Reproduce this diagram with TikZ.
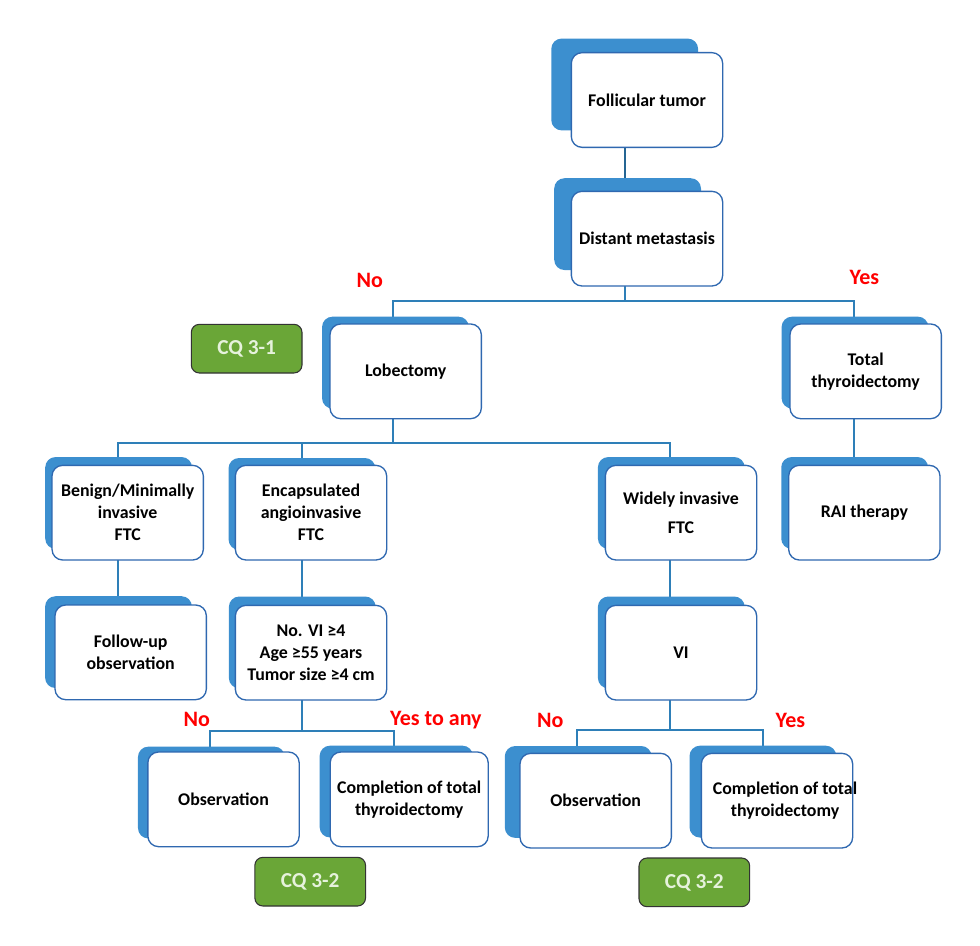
\documentclass[tikz,border=0pt]{standalone}
\usepackage{fontspec}
\setmainfont{Carlito}
\usetikzlibrary{positioning, shadows, backgrounds}
\definecolor{colour_plate}{HTML}{3C8FCF}
\definecolor{colour_edge}{HTML}{2F68B0}
\definecolor{colour_link}{HTML}{2E7FB8}
\definecolor{colour_cq}{HTML}{6AA637}
\definecolor{colour_cqtext}{HTML}{E6F2DC}

\begin{document}
\begin{tikzpicture}[
    x=0.75pt, y=-0.75pt,
    font=\bfseries\fontsize{13.4}{16.5}\selectfont,
    box/.style={rectangle, draw=colour_edge, line width=1pt, fill=white, rounded corners=8pt, outer sep=0pt,
                inner sep=0pt, minimum height=71pt, minimum width=113.5pt, align=center},
    plate/.style 2 args={general shadow={shadow scale=0.97, shadow xshift=#1, shadow yshift=#2,
                fill=colour_plate, draw=none}},
    link/.style={colour_link, line width=1.1pt},
    cq/.style={rectangle, draw=black!80, thick, fill=colour_cq, rounded corners=6pt, outer sep=0pt,
               text=colour_cqtext, minimum height=36.5pt, minimum width=83pt, font=\bfseries\fontsize{16}{18}\selectfont},
    answer/.style={text=red, inner sep=0pt, font=\bfseries\fontsize{16.5}{18}\selectfont}
]
\useasboundingbox (0,0) rectangle (980,945);

% Top of the tree
\node[box, plate={-17.25pt}{12pt}] (follicular) at (647,100) {Follicular tumor};
\node[box, plate={-15pt}{11.25pt}, below=33pt of follicular] (distant) {Distant metastasis};
\node[box, plate={-7.9pt}{6.75pt}, below=28.5pt of distant, xshift=-181pt] (lobectomy) {Lobectomy};
\node[box, plate={-8.25pt}{6.75pt}, right=231.5pt of lobectomy] (total) {Total\\thyroidectomy};

% Pathology row
\node[box, plate={-7pt}{7.5pt}, below=35pt of lobectomy, xshift=-208.5pt] (benign) {Benign/Minimally\\invasive\\FTC};
\node[box, plate={-7pt}{6.75pt}, right=24pt of benign] (encapsulated) {Encapsulated\\angioinvasive\\FTC};
\node[box, plate={-7.5pt}{7.5pt}, right=164pt of encapsulated] (widely) {Widely invasive\\[5pt]FTC};
\node[box, plate={-7.5pt}{7.5pt}, right=24pt of widely] (rai) {RAI therapy};

% Third row
\node[box, plate={-9.4pt}{7.9pt}, below=33.75pt of benign, xshift=2.25pt] (followup) {Follow-up\\observation};
\node[box, plate={-6.75pt}{7.9pt}, below=34pt of encapsulated] (criteria) {No. VI ≥4\\Age ≥55 years\\Tumor size ≥4 cm};
\node[box, plate={-7.5pt}{7.9pt}, below=34pt of widely] (vi) {VI};

% Bottom row
\node[box, plate={-9.4pt}{5.25pt}, below=39pt of criteria, xshift=-65.6pt] (observationA) {Observation};
\node[box, plate={-10pt}{6pt}, right=23.25pt of observationA, minimum width=118.5pt] (completionA) {Completion of total\\thyroidectomy};
\node[box, plate={-13.5pt}{6.75pt}, below=40pt of vi, xshift=-64pt] (observationB) {Observation};
\node[box, plate={-10.9pt}{7pt}, right=22.5pt of observationB] (completionB) {\hspace*{6pt}Completion of total\hspace*{-6pt}\\\hspace*{6pt}thyroidectomy\hspace*{-6pt}};

% CQ tags
\node[cq, left=21pt of lobectomy, yshift=17pt] (cqone) {CQ 3-1};
\node[cq, below=8pt of observationA, xshift=65pt] (cqtwoA) {CQ 3-2};
\node[cq, below=7.5pt of observationB, xshift=74pt] (cqtwoB) {CQ 3-2};

% Answers
\node[answer, above=27pt of lobectomy, xshift=-27pt] (noA) {No};
\node[answer, above=29pt of total, xshift=-1pt] (yesA) {Yes};
\node[answer, above=18.5pt of observationA, xshift=-20pt] (noB) {No};
\node[answer, above=17pt of completionA, xshift=20pt] (yesB) {Yes to any};
\node[answer, above=19pt of observationB, xshift=-34pt] (noC) {No};
\node[answer, above=19pt of completionB, xshift=10pt] (yesC) {Yes};

% Junctions of the branches
\coordinate (trunk) at (625,301);
\coordinate (busleft) at (393,301);
\coordinate (busright) at (854,301);
\coordinate (lobe) at (393,443);
\coordinate (lobea) at (118,443);
\coordinate (lobeb) at (302,443);
\coordinate (lobec) at (670,443);
\coordinate (crit) at (302,731);
\coordinate (crita) at (210,731);
\coordinate (critb) at (394,731);
\coordinate (vibus) at (670,730);
\coordinate (via) at (577,730);
\coordinate (vib) at (763,730);

\begin{scope}[on background layer]
\draw[link, black!20!colour_link, line width=1.4pt] (follicular.south -| trunk) -- (distant.north -| trunk);
\draw[link] (distant.south -| trunk) -- (trunk);
\draw[link] (lobectomy.north -| busleft) -- (busleft) -- (busright) -- (total.north -| busright);
\draw[link] (total.south -| busright) -- (rai.north -| busright);
\draw[link] (lobectomy.south -| lobe) -- (lobe);
\draw[link] (benign.north -| lobea) -- (lobea) -- (lobec) -- (widely.north -| lobec);
\draw[link] (encapsulated.north -| lobeb) -- (lobeb);
\draw[link] (benign.south -| lobea) -- (followup.north -| lobea);
\draw[link] (encapsulated.south -| lobeb) -- (criteria.north -| lobeb);
\draw[link] (widely.south -| lobec) -- (vi.north -| lobec);
\draw[link] (criteria.south -| crit) -- (crit);
\draw[link] (observationA.north -| crita) -- (crita) -- (critb) -- (completionA.north -| critb);
\draw[link] (vi.south -| vibus) -- (vibus);
\draw[link] (observationB.north -| via) -- (via) -- (vib) -- (completionB.north -| vib);
\end{scope}

\end{tikzpicture}
\end{document}
